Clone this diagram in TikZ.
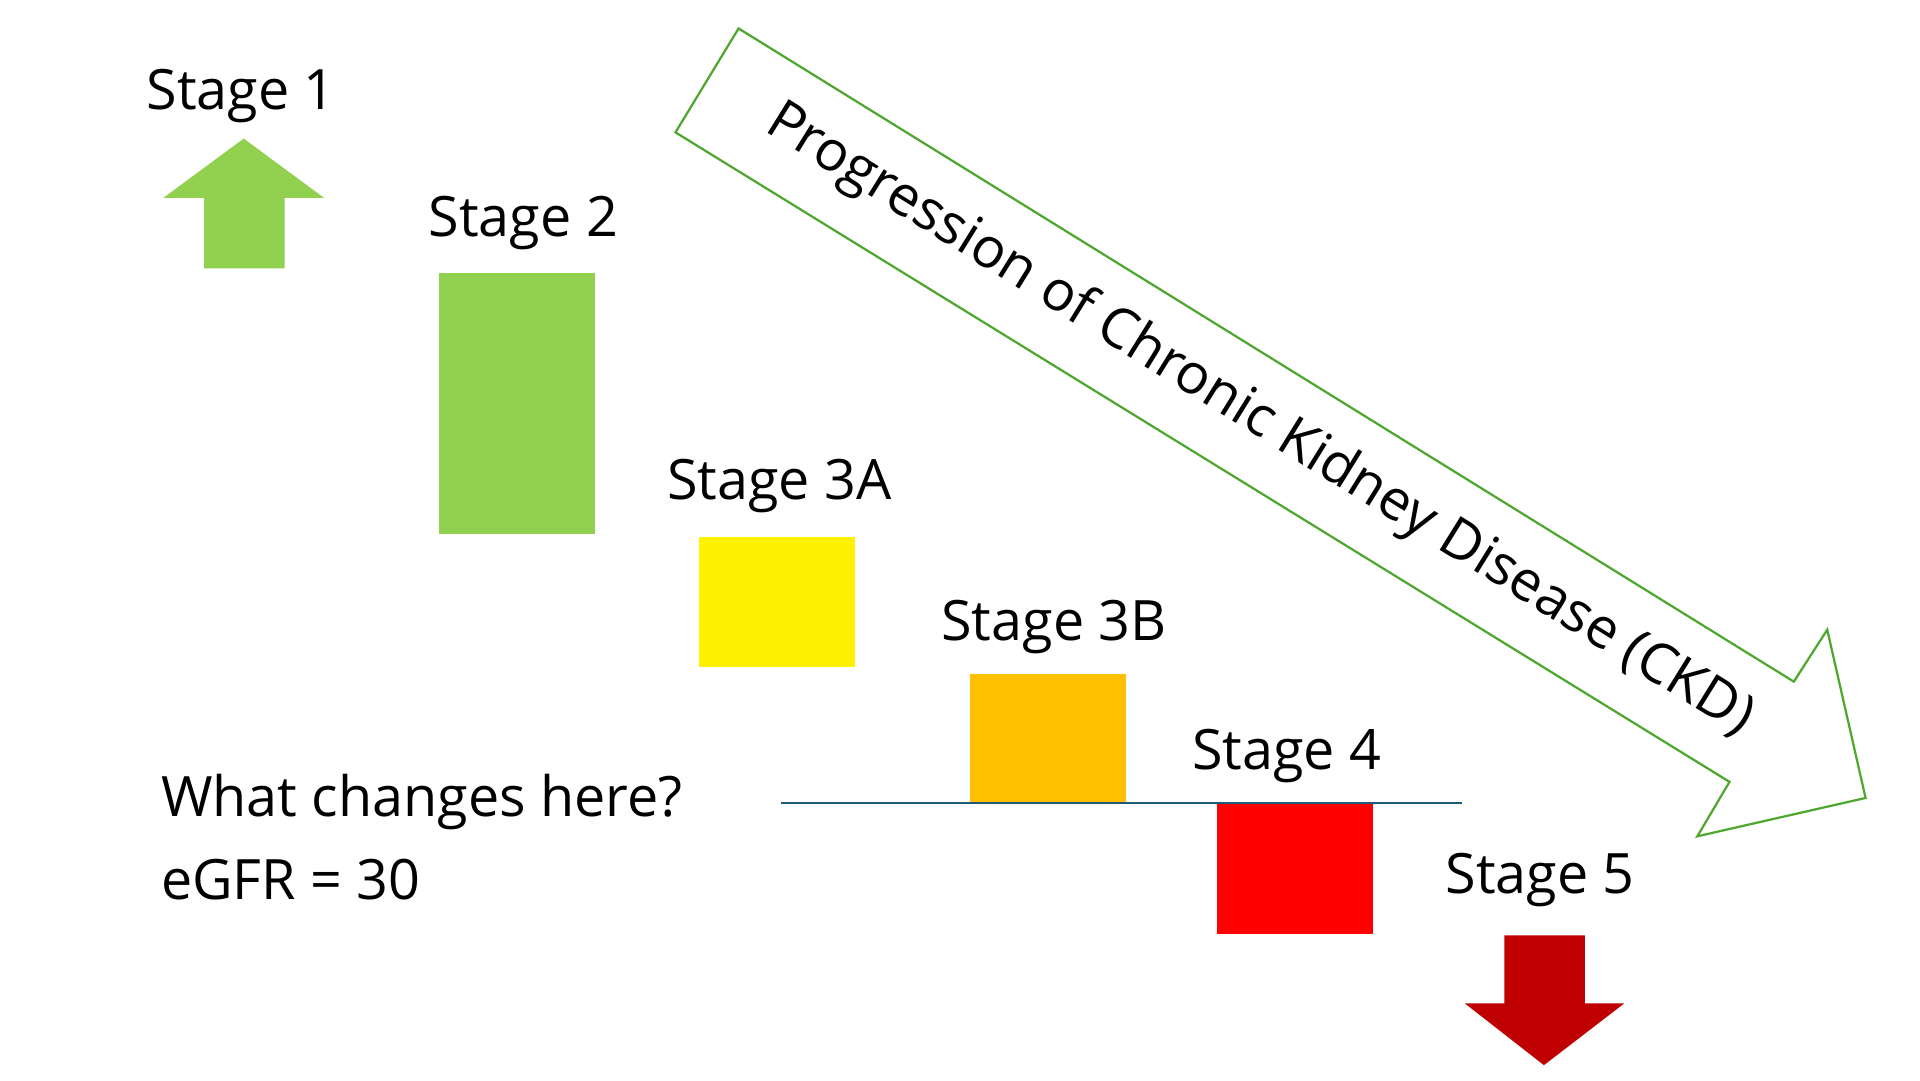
\documentclass[tikz,border=0pt]{standalone}
\usepackage{fontspec}
\setmainfont{Open Sans}
\definecolor{lgreen}{HTML}{92D050}
\definecolor{amber}{HTML}{FFC000}
\definecolor{dred}{HTML}{C00000}
\definecolor{agreen}{HTML}{4EA72E}
\definecolor{lineblue}{HTML}{1F5A7A}
\begin{document}
\begin{tikzpicture}[x=1pt,y=-1pt]
  \tikzset{lbl/.style={font=\fontsize{45}{50}\selectfont, inner sep=0pt}}
  \useasboundingbox[fill=white] (0,0) rectangle (1552,873);

	%stage labels and boxes
    \foreach \x/\y/\num/\name in {195/78/1/s1, 423/180/2/s2, 630/393/3A/s3a, 852/507/3B/s3b, 1040/611/4/s4, 1245/711/5/s5}{
           \node[lbl] (\name) at (\x,\y) {Stage \num};
    }

    \foreach \x/\y/\h/\col/\name in {355/221/211/lgreen/b2, 565/434/105/yellow/b3a, 784/545/104/amber/b3b, 984/650/105/red/b4}{
           \fill[\col] (\x,\y) rectangle (\x+126,\y+\h);
           \coordinate (\name) at (\x+63,\y);
    }

	%end arrows
   \fill[lgreen] (165,217) -- (165,160) -- (132,160) -- (197,112) -- (262,160) -- (230,160) -- (230,217) -- cycle;
   \fill[dred] (1216,756) -- (1216,811) -- (1184,811) -- (1248,861) -- (1313,811) -- (1281,811) -- (1281,756) -- cycle;

	%threshold
   \coordinate (l1) at (631,649);
   \coordinate (l2) at (1182,649);
   \draw[lineblue, line width=1.5] (l1) -- (l2);
   \node[lbl, anchor=west] (q) at (130,648) {What changes here?};
   \node[lbl, anchor=west] (egfr) at (130,711) {eGFR = 30};

	%progression arrow
   \draw[agreen, line width=1.8] (597,23) -- (1450,551) -- (1477,509) -- (1508,645) -- (1372,676) -- (1398,632) -- (546,107) -- cycle;
   \node[lbl, rotate=-31.8] (ckd) at (1018,340) {Progression of Chronic Kidney Disease (CKD)};

\end{tikzpicture}
\end{document}
